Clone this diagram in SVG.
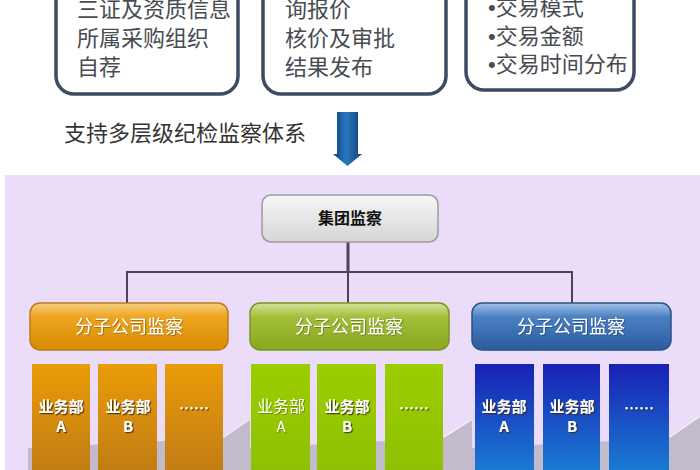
<svg xmlns="http://www.w3.org/2000/svg" width="700" height="470" viewBox="0 0 700 470">
<style>
.cjk{font-family:"Noto Sans CJK SC","Noto Sans",sans-serif;}
.top{font-size:22px;fill:#474b52;}
.topbox{fill:#fff;stroke:#3e4b60;stroke-width:3.5;}
.hdr{font-size:18px;fill:#fff;text-anchor:middle;}
.col{font-size:15px;font-weight:bold;fill:#fff;text-anchor:middle;}
.conn{stroke:#4d4258;stroke-width:2;fill:none;}
.plat{fill:#c2bbcc;}
.platedge{stroke:#f2eef6;stroke-width:1.5;fill:none;}
.bul{font-family:"Liberation Sans",sans-serif;}
</style>
<defs>
<linearGradient id="gArrow" x1="0" y1="0" x2="1" y2="0">
<stop offset="0" stop-color="#0b3f78"/><stop offset="0.45" stop-color="#2a78c0"/><stop offset="1" stop-color="#0b3f78"/>
</linearGradient>
<linearGradient id="gGray" x1="0" y1="0" x2="0" y2="1">
<stop offset="0" stop-color="#f6f6f6"/><stop offset="1" stop-color="#d6d6d6"/>
</linearGradient>
<linearGradient id="gOrH" x1="0" y1="0" x2="0" y2="1">
<stop offset="0" stop-color="#f9d080"/><stop offset="0.3" stop-color="#eda420"/><stop offset="1" stop-color="#d88c00"/>
</linearGradient>
<linearGradient id="gGrH" x1="0" y1="0" x2="0" y2="1">
<stop offset="0" stop-color="#d4e49a"/><stop offset="0.3" stop-color="#a2be38"/><stop offset="1" stop-color="#88a820"/>
</linearGradient>
<linearGradient id="gBlH" x1="0" y1="0" x2="0" y2="1">
<stop offset="0" stop-color="#a4c2e8"/><stop offset="0.3" stop-color="#4a80c2"/><stop offset="1" stop-color="#2a5c9e"/>
</linearGradient>
<linearGradient id="gOrC" x1="0" y1="0" x2="0" y2="1">
<stop offset="0" stop-color="#ea9c08"/><stop offset="1" stop-color="#c27c14"/>
</linearGradient>
<linearGradient id="gGrC" x1="0" y1="0" x2="0" y2="1">
<stop offset="0" stop-color="#9ccd00"/><stop offset="1" stop-color="#8fc004"/>
</linearGradient>
<linearGradient id="gBlC" x1="0" y1="0" x2="0" y2="1">
<stop offset="0" stop-color="#1820b4"/><stop offset="1" stop-color="#1a7ad2"/>
</linearGradient>
<filter id="sh" x="-20%" y="-20%" width="140%" height="140%">
<feDropShadow dx="1.2" dy="1.2" stdDeviation="0.4" flood-color="#3a2a10" flood-opacity="0.85"/>
</filter>
<filter id="sh2" x="-20%" y="-20%" width="140%" height="140%">
<feDropShadow dx="0.8" dy="0.8" stdDeviation="0.5" flood-color="#000" flood-opacity="0.35"/>
</filter>
</defs>
<rect width="700" height="470" fill="#fff"/>

<g id="box-supplier">
<rect class="topbox" x="56" y="-40" width="182" height="134" rx="18"/>
<text class="cjk top" x="77" y="17">三证及资质信息</text>
<text class="cjk top" x="77" y="46">所属采购组织</text>
<text class="cjk top" x="77" y="75">自荐</text>
</g>
<g id="box-process">
<rect class="topbox" x="263" y="-40" width="183" height="134" rx="18"/>
<text class="cjk top" x="285" y="17">询报价</text>
<text class="cjk top" x="285" y="46">核价及审批</text>
<text class="cjk top" x="285" y="75">结果发布</text>
</g>
<g id="box-stats">
<rect class="topbox" x="466" y="-40" width="168" height="130" rx="18"/>
<text class="cjk top" x="488" y="15"><tspan class="bul">•</tspan>交易模式</text>
<text class="cjk top" x="488" y="44"><tspan class="bul">•</tspan>交易金额</text>
<text class="cjk top" x="488" y="72"><tspan class="bul">•</tspan>交易时间分布</text>
</g>

<g id="heading">
<text class="cjk top" x="64" y="141" style="fill:#333">支持多层级纪检监察体系</text>
</g>
<g id="down-arrow">
<polygon points="337,112 358,112 358,154 362,154 347.5,166 333,154 337,154" fill="url(#gArrow)"/>
</g>

<rect id="panel" x="5" y="175" width="695" height="295" fill="#ebdcf9"/>

<g id="platform">
<polygon class="plat" points="28,470 28,448 223,438 250,418 250,470"/>
<polyline class="platedge" points="224,437 250,419"/>
<polygon class="plat" points="248,470 248,448 443,438 472,418 472,470"/>
<polyline class="platedge" points="444,437 472,419"/>
<polygon class="plat" points="472,470 472,448 669,438 700,416 700,470"/>
<polyline class="platedge" points="670,437 700,416"/>
</g>

<g id="connectors">
<line class="conn" x1="348" y1="242" x2="348" y2="272" style="stroke-width:3"/>
<polyline class="conn" points="127,303 127,272 572,272 572,303"/>
<line class="conn" x1="348" y1="272" x2="348" y2="303"/>
</g>

<g id="group-supervision">
<rect x="262" y="195" width="176" height="47" rx="9" fill="url(#gGray)" stroke="#9a9a9a" stroke-width="1.5"/>
<text class="cjk" x="350" y="224" text-anchor="middle" font-size="16" font-weight="bold" fill="#111">集团监察</text>
</g>

<g id="sub-orange">
<rect x="30" y="303" width="198" height="47" rx="10" fill="url(#gOrH)" stroke="#b87c18" stroke-width="1.5"/>
<text class="cjk hdr" x="129" y="333" filter="url(#sh2)">分子公司监察</text>
</g>
<g id="sub-green">
<rect x="250" y="303" width="199" height="47" rx="10" fill="url(#gGrH)" stroke="#789428" stroke-width="1.5"/>
<text class="cjk hdr" x="349" y="333" filter="url(#sh2)">分子公司监察</text>
</g>
<g id="sub-blue">
<rect x="472" y="303" width="199" height="47" rx="10" fill="url(#gBlH)" stroke="#2a5088" stroke-width="1.5"/>
<text class="cjk hdr" x="571" y="333" filter="url(#sh2)">分子公司监察</text>
</g>

<g id="dept-orange-a">
<rect x="32" y="364" width="58" height="106" fill="url(#gOrC)"/>
<text class="cjk col" x="61" y="412" filter="url(#sh)">业务部</text>
<text class="cjk col" x="61" y="432" filter="url(#sh)">A</text>
</g>
<g id="dept-orange-b">
<rect x="98" y="364" width="59" height="106" fill="url(#gOrC)"/>
<text class="cjk col" x="128" y="412" filter="url(#sh)">业务部</text>
<text class="cjk col" x="128" y="432" filter="url(#sh)">B</text>
</g>
<g id="dept-orange-more">
<rect x="165" y="364" width="58" height="106" fill="url(#gOrC)"/>
<text class="cjk col" x="194" y="414" font-size="11" filter="url(#sh)">……</text>
</g>

<g id="dept-green-a">
<rect x="251" y="364" width="59" height="106" fill="url(#gGrC)"/>
<text class="cjk col" x="281" y="412" filter="url(#sh2)" style="font-weight:normal;font-size:16px">业务部</text>
<text class="cjk col" x="281" y="432" filter="url(#sh2)" style="font-weight:normal">A</text>
</g>
<g id="dept-green-b">
<rect x="317" y="364" width="59" height="106" fill="url(#gGrC)"/>
<text class="cjk col" x="347" y="412" filter="url(#sh)">业务部</text>
<text class="cjk col" x="347" y="432" filter="url(#sh)">B</text>
</g>
<g id="dept-green-more">
<rect x="385" y="364" width="58" height="106" fill="url(#gGrC)"/>
<text class="cjk col" x="414" y="414" font-size="11" filter="url(#sh)">……</text>
</g>

<g id="dept-blue-a">
<rect x="475" y="364" width="59" height="106" fill="url(#gBlC)"/>
<text class="cjk col" x="504" y="412" filter="url(#sh)">业务部</text>
<text class="cjk col" x="504" y="432" filter="url(#sh)">A</text>
</g>
<g id="dept-blue-b">
<rect x="543" y="364" width="57" height="106" fill="url(#gBlC)"/>
<text class="cjk col" x="572" y="412" filter="url(#sh)">业务部</text>
<text class="cjk col" x="572" y="432" filter="url(#sh)">B</text>
</g>
<g id="dept-blue-more">
<rect x="609" y="364" width="60" height="106" fill="url(#gBlC)"/>
<text class="cjk col" x="639" y="414" font-size="11" filter="url(#sh)">……</text>
</g>
</svg>
